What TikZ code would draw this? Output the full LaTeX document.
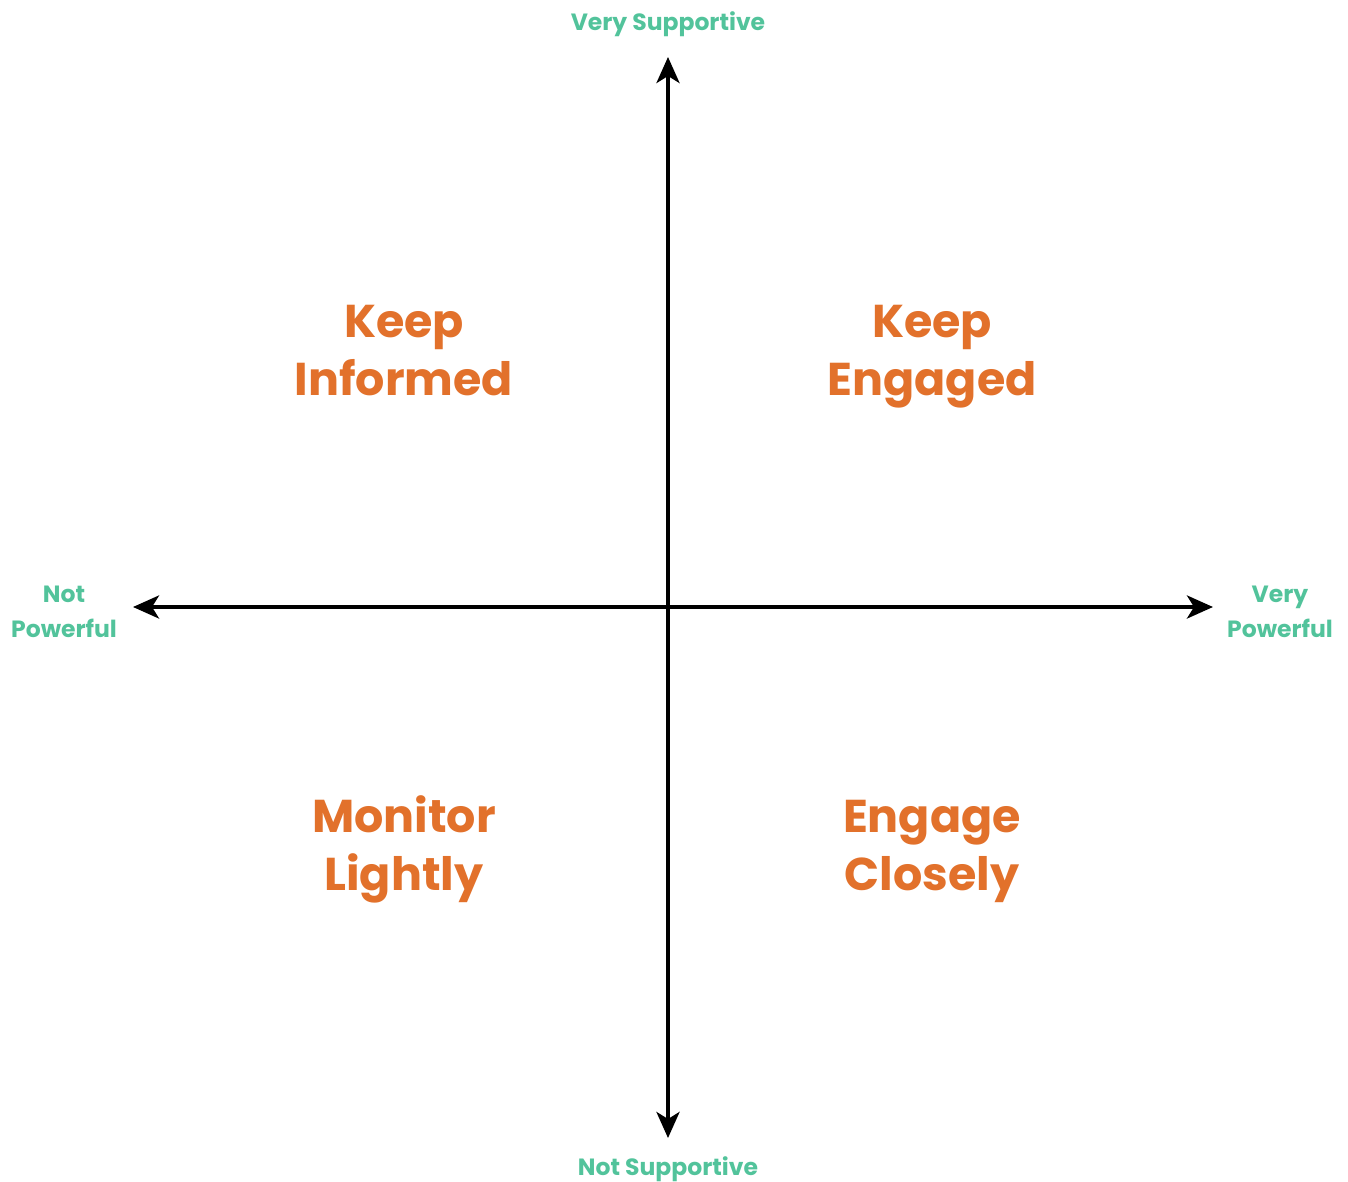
\documentclass[tikz,border=0pt]{standalone}
\usepackage{fontspec}
\setmainfont{Poppins}
\usetikzlibrary{arrows.meta}
\definecolor{axisgreen}{HTML}{52C39B}
\definecolor{quadorange}{HTML}{E2712B}
\begin{document}
\begin{tikzpicture}[x=1pt,y=-1pt,
  axislabel/.style={text=axisgreen,font=\bfseries\fontsize{23.5}{28}\selectfont,anchor=base,inner sep=0pt},
  quadlabel/.style={text=quadorange,font=\bfseries\fontsize{46}{52}\selectfont,anchor=base,inner sep=0pt},
  axisline/.style={line width=4pt,-{Stealth[length=26pt,width=23pt,inset=7pt]}}]
  \useasboundingbox (0,0) rectangle (1348,1182);
  % axes, drawn outward from the centre
  \coordinate (o) at (668,607);
  \coordinate (top) at (668,57);
  \coordinate (bottom) at (668,1138);
  \coordinate (left) at (133,607);
  \coordinate (right) at (1213,607);
  \draw[axisline] (o) -- (top);
  \draw[axisline] (o) -- (bottom);
  \draw[axisline] (o) -- (left);
  \draw[axisline] (o) -- (right);
  % axis ends
  \node[axislabel] (vs) at (668,31) {Very Supportive};
  \node[axislabel] (ns) at (668,1175) {Not Supportive};
  \node[axislabel] (np1) at (64,602) {Not};
  \node[axislabel] (np2) at (64,637) {Powerful};
  \node[axislabel] (vp1) at (1280,602) {Very};
  \node[axislabel] (vp2) at (1280,637) {Powerful};
  % quadrants
  \node[quadlabel] (ki1) at (404,337) {Keep};
  \node[quadlabel] (ki2) at (404,395) {Informed};
  \node[quadlabel] (ke1) at (932,337) {Keep};
  \node[quadlabel] (ke2) at (932,395) {Engaged};
  \node[quadlabel] (ml1) at (404,832) {Monitor};
  \node[quadlabel] (ml2) at (404,890) {Lightly};
  \node[quadlabel] (ec1) at (932,832) {Engage};
  \node[quadlabel] (ec2) at (932,890) {Closely};
\end{tikzpicture}
\end{document}
